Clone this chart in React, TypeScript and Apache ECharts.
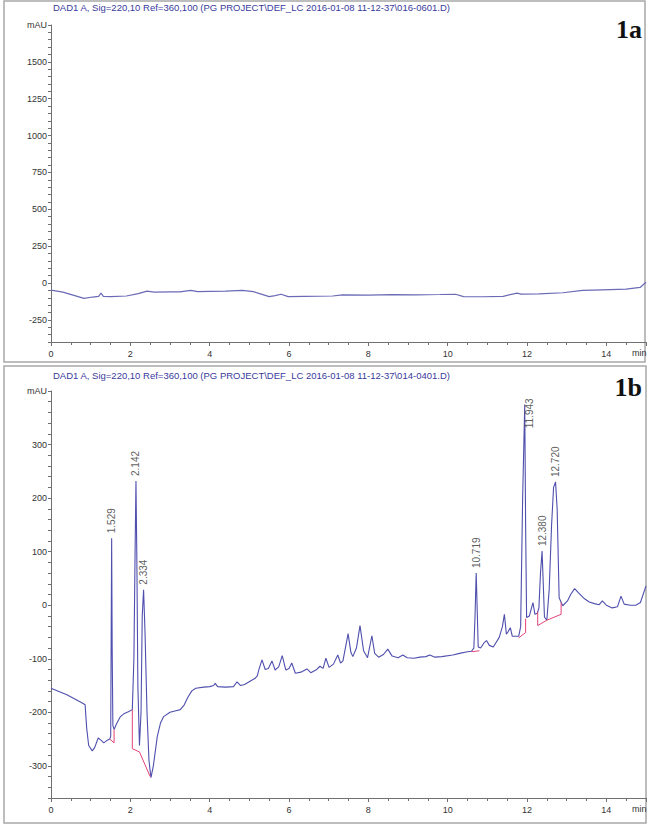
import React, { useEffect, useRef } from "react";
import * as echarts from "echarts";

const HEADER_A = "DAD1 A, Sig=220,10 Ref=360,100 (PG PROJECT\\DEF_LC 2016-01-08 11-12-37\\016-0601.D)";
const HEADER_B = "DAD1 A, Sig=220,10 Ref=360,100 (PG PROJECT\\DEF_LC 2016-01-08 11-12-37\\014-0401.D)";

// Panel 1a (blank) – retention time (min) and signal (mAU)
const timeA = [0, 0.3, 0.6, 0.83, 1.05, 1.2, 1.26, 1.32, 1.5, 1.9, 2.2, 2.42, 2.6, 3.0, 3.25, 3.52, 3.7, 4.0, 4.4, 4.83, 5.1, 5.3, 5.5, 5.65, 5.8, 5.98, 6.4, 7.1, 7.35, 8.0, 8.6, 9.2, 9.8, 10.2, 10.4, 10.9, 11.4, 11.75, 11.85, 12.3, 12.9, 13.4, 13.9, 14.5, 14.85, 15.0];
const signalA = [-48, -62, -85, -104, -95, -90, -68, -90, -92, -88, -72, -55, -62, -60, -60, -50, -58, -56, -55, -50, -58, -75, -92, -85, -76, -92, -90, -88, -80, -82, -79, -80, -78, -76, -92, -93, -90, -68, -75, -74, -66, -50, -46, -42, -30, 5];

// Panel 1b (sample)
const timeB = [0.0, 0.2, 0.4, 0.6, 0.8, 0.86, 0.9, 0.95, 1.04, 1.1, 1.19, 1.26, 1.33, 1.42, 1.48, 1.505, 1.517, 1.529, 1.542, 1.56, 1.59, 1.65, 1.75, 1.85, 1.95, 2.05, 2.09, 2.12, 2.142, 2.165, 2.19, 2.23, 2.27, 2.30, 2.334, 2.37, 2.42, 2.47, 2.52, 2.58, 2.68, 2.76, 2.84, 3.0, 3.15, 3.26, 3.36, 3.45, 3.55, 3.65, 3.85, 4.0, 4.1, 4.14, 4.2, 4.4, 4.6, 4.69, 4.78, 4.88, 5.06, 5.14, 5.2, 5.25, 5.32, 5.4, 5.48, 5.57, 5.65, 5.74, 5.83, 5.92, 6.0, 6.07, 6.16, 6.3, 6.45, 6.55, 6.7, 6.78, 6.86, 6.93, 7.01, 7.12, 7.23, 7.3, 7.36, 7.49, 7.56, 7.61, 7.7, 7.79, 7.88, 7.98, 8.09, 8.16, 8.26, 8.38, 8.49, 8.6, 8.75, 8.87, 8.98, 9.15, 9.3, 9.45, 9.55, 9.68, 9.85, 10.13, 10.3, 10.5, 10.6, 10.66, 10.69, 10.719, 10.745, 10.77, 10.83, 10.92, 10.98, 11.05, 11.15, 11.3, 11.38, 11.43, 11.48, 11.52, 11.58, 11.63, 11.79, 11.84, 11.89, 11.943, 11.965, 11.99, 12.06, 12.15, 12.2, 12.26, 12.3, 12.34, 12.38, 12.41, 12.44, 12.5, 12.56, 12.62, 12.67, 12.72, 12.76, 12.81, 12.9, 13.02, 13.1, 13.2, 13.3, 13.45, 13.57, 13.7, 13.82, 13.9, 14.0, 14.15, 14.28, 14.37, 14.45, 14.6, 14.74, 14.86, 15.0];
const signalB = [-155, -161, -167, -175, -183, -186, -230, -262, -272, -266, -248, -252, -257, -252, -250, -245, -60, 125, -80, -225, -232, -222, -208, -202, -199, -195, -100, 100, 232, 80, -150, -262, -200, -20, 29, -50, -200, -290, -322, -300, -245, -220, -208, -200, -197, -195, -186, -172, -160, -155, -153, -152, -150, -146, -152, -153, -152, -143, -150, -148, -140, -137, -132, -118, -102, -120, -118, -104, -121, -115, -94, -121, -118, -108, -127, -125, -119, -126, -120, -114, -118, -99, -116, -110, -93, -108, -104, -53, -88, -96, -80, -38, -85, -98, -57, -90, -97, -92, -82, -95, -98, -93, -98, -99, -97, -96, -93, -97, -96, -93, -90, -87, -86, -80, -20, 60, -10, -78, -80, -70, -66, -75, -78, -60, -40, -17, -54, -50, -42, -58, -58, -40, 200, 375, 150, -23, -20, 5, -17, -15, -5, 60, 101, 40, -22, -28, 30, 150, 220, 230, 180, 14, -1, 8, 20, 31, 23, 12, 6, 3, 1, 8, 0, -5, -3, 17, 2, 0, 0, 5, 36];

// Integrated peaks
const peakTimes = [1.529, 2.142, 2.334, 10.719, 11.943, 12.38, 12.72];
const peakHeights = [125, 232, 29, 60, 375, 101, 230];
const peakLabels = ["1.529", "2.142", "2.334", "10.719", "11.943", "12.380", "12.720"];

// Integration baselines (drawn in red)
const baselineTimes = [
  [1.48, 1.59, 1.59],
  [2.05, 2.05, 2.23, 2.5],
  [10.6, 10.8],
  [11.79, 11.965, 11.965],
  [12.27, 12.27, 12.5, 12.86, 12.86],
];
const baselineValues = [
  [-250, -257, -232],
  [-195, -268, -274, -320],
  [-87, -85],
  [-61, -51, -25],
  [-12, -38, -28, -17, 5],
];

const xLabels = ["0", "2", "4", "6", "8", "10", "12", "14"];

const BLUE = "#4f4fae";
const RED = "#e4437a";
const AXIS = "#707070";
const FONT = "Liberation Sans";

export default function App() {
  const ref = useRef<HTMLDivElement>(null);

  useEffect(() => {
    if (!ref.current) return;
    const chart = echarts.init(ref.current, null, { renderer: "svg" });

    const xAxis = (gridIndex: number) => ({
      type: "value",
      gridIndex,
      min: 0,
      max: 15,
      interval: 2,
      axisLine: { show: true, onZero: false, lineStyle: { color: AXIS, width: 1 } },
      axisTick: { show: true, length: 4, lineStyle: { color: AXIS } },
      minorTick: { show: true, splitNumber: 4, length: 3, lineStyle: { color: AXIS } },
      splitLine: { show: false },
      minorSplitLine: { show: false },
      axisLabel: {
        fontSize: 9,
        color: "#333",
        fontFamily: FONT,
        margin: 7,
        formatter: (v: number) => (xLabels.includes(String(v)) ? String(v) : ""),
      },
    });

    const yAxis = (gridIndex: number, min: number, max: number, interval: number, step: number) => ({
      type: "value",
      gridIndex,
      min,
      max,
      interval,
      axisLine: { show: true, onZero: false, lineStyle: { color: AXIS, width: 1 } },
      axisTick: { show: true, length: 3, lineStyle: { color: AXIS } },
      splitLine: { show: false },
      axisLabel: {
        fontSize: 9,
        color: "#333",
        fontFamily: FONT,
        margin: 4,
        formatter: (v: number) => (v === max ? "mAU" : v % step === 0 && v > min + interval * 2 ? String(v) : ""),
      },
    });

    const series: any[] = [
      {
        type: "line",
        xAxisIndex: 0,
        yAxisIndex: 0,
        data: timeA.map((t, i) => [t, signalA[i]]),
        showSymbol: false,
        lineStyle: { color: "#6a6ab6", width: 1.2 },
        z: 3,
      },
      {
        type: "line",
        xAxisIndex: 1,
        yAxisIndex: 1,
        data: timeB.map((t, i) => [t, signalB[i]]),
        showSymbol: false,
        lineStyle: { color: BLUE, width: 1.1 },
        z: 3,
      },
    ];
    baselineTimes.forEach((ts, k) => {
      series.push({
        type: "line",
        xAxisIndex: 1,
        yAxisIndex: 1,
        data: ts.map((t, i) => [t, baselineValues[k][i]]),
        showSymbol: false,
        lineStyle: { color: RED, width: 1 },
        z: 4,
      });
    });
    series.push({
      type: "scatter",
      xAxisIndex: 1,
      yAxisIndex: 1,
      symbolSize: 2,
      itemStyle: { color: "rgba(0,0,0,0)" },
      z: 5,
      data: peakTimes.map((t, i) => ({
        value: [t, peakHeights[i]],
        label: {
          show: true,
          formatter: peakLabels[i],
          rotate: 90,
          position: i === 4 ? [6, -5] : [1, -4],
          align: i === 4 ? "right" : "left",
          verticalAlign: "middle",
          fontSize: 10,
          fontFamily: FONT,
          color: "#333",
        },
      })),
    });

    chart.setOption({
      animation: false,
      backgroundColor: "#ffffff",
      grid: [
        { left: 51, right: 4, top: 25, height: 317 },
        { left: 51, right: 4, top: 391, height: 407 },
      ],
      xAxis: [xAxis(0), xAxis(1)],
      yAxis: [yAxis(0, -400, 1750, 50, 250), yAxis(1, -360, 400, 20, 100)],
      series,
      graphic: [
        { type: "rect", shape: { x: 4, y: 1, width: 641, height: 361 }, style: { fill: "none", stroke: "#a8a8a8", lineWidth: 1.5 } },
        { type: "rect", shape: { x: 4, y: 366, width: 642, height: 457 }, style: { fill: "none", stroke: "#a8a8a8", lineWidth: 1.5 } },
        { type: "text", x: 53, y: 7, style: { text: HEADER_A, fontSize: 9.5, fontFamily: FONT, fill: "#3a3a9c", verticalAlign: "middle" } },
        { type: "text", x: 53, y: 375, style: { text: HEADER_B, fontSize: 9.5, fontFamily: FONT, fill: "#3a3a9c", verticalAlign: "middle" } },
        { type: "text", x: 642, y: 29, style: { text: "1a", fontSize: 26, fontWeight: "bold", fontFamily: "Liberation Serif", fill: "#111", align: "right", verticalAlign: "middle" } },
        { type: "text", x: 642, y: 387, style: { text: "1b", fontSize: 26, fontWeight: "bold", fontFamily: "Liberation Serif", fill: "#111", align: "right", verticalAlign: "middle" } },
        { type: "text", x: 632, y: 353, style: { text: "min", fontSize: 9, fontFamily: FONT, fill: "#333", verticalAlign: "middle" } },
        { type: "text", x: 632, y: 809, style: { text: "min", fontSize: 9, fontFamily: FONT, fill: "#333", verticalAlign: "middle" } },
      ],
    });

    return () => chart.dispose();
  }, []);

  return <div ref={ref} style={{ position: "fixed", left: 0, top: 0, width: 650, height: 827, background: "#fff" }} />;
}
